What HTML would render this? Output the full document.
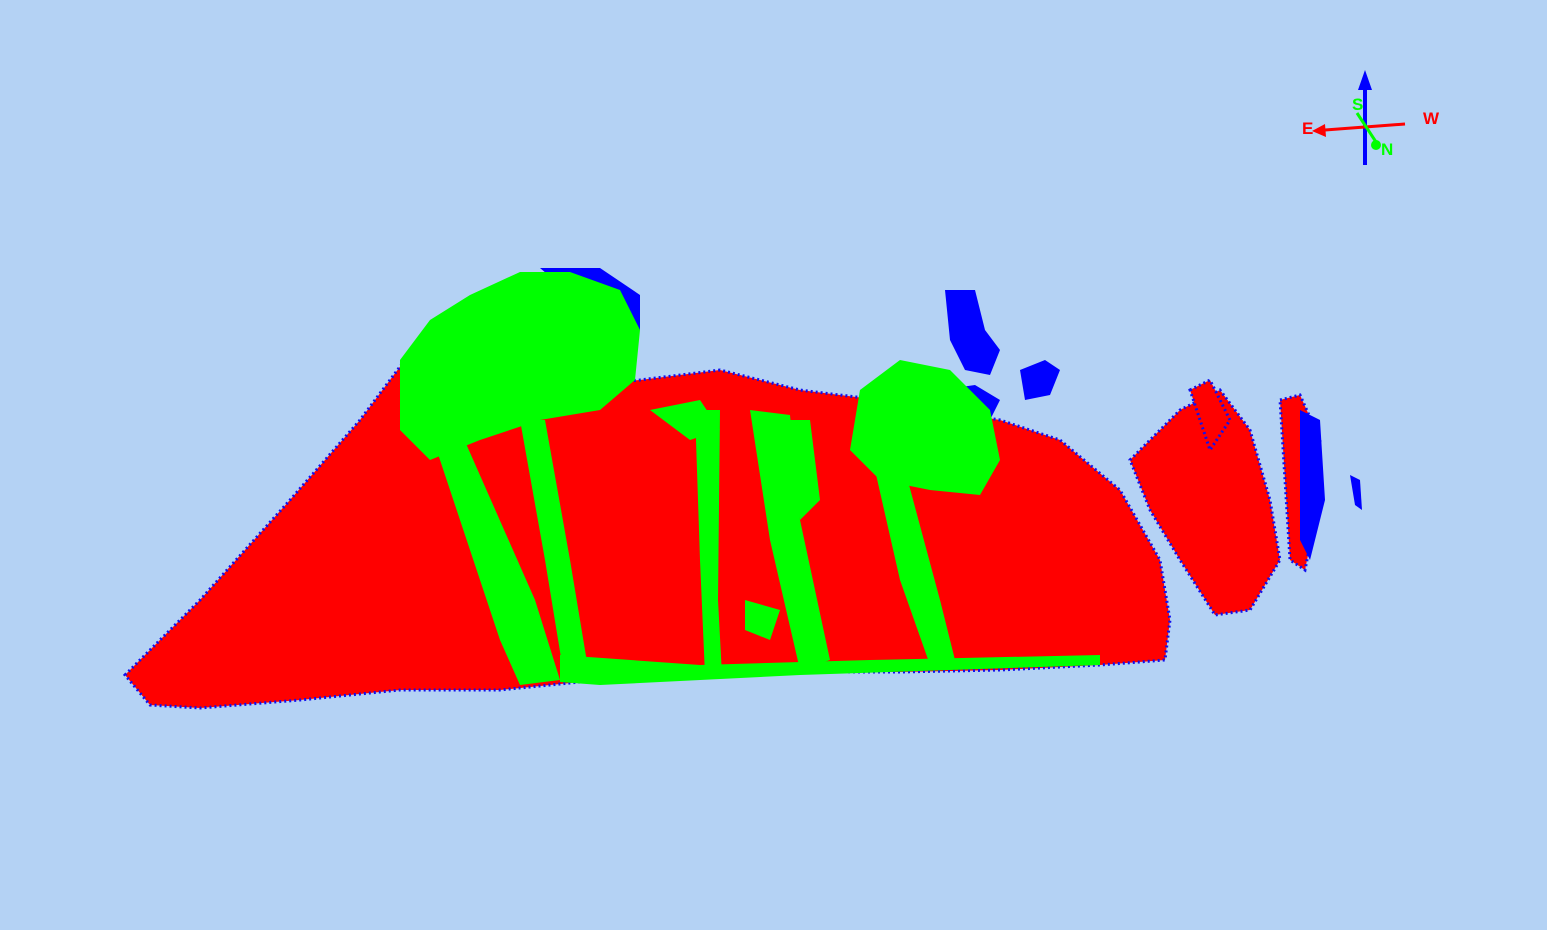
<!DOCTYPE html>
<html><head><meta charset="utf-8"><style>
html,body{margin:0;padding:0;background:#b4d2f4;}
svg{display:block}
text{font-family:"Liberation Sans",sans-serif;font-weight:bold}
</style></head><body>
<svg width="1547" height="930" viewBox="0 0 1547 930">
<rect width="1547" height="930" fill="#b4d2f4"/>
<g id="cloud"></g>
<g>
 <line x1="1365" y1="165" x2="1365" y2="85" stroke="#0000ff" stroke-width="4"/>
 <polygon points="1358,90 1365,70 1372,90" fill="#0000ff"/>
 <line x1="1325" y1="130" x2="1405" y2="124" stroke="#ff0000" stroke-width="3"/>
 <polygon points="1312,131 1325,124 1326,137" fill="#ff0000"/>
 <line x1="1357" y1="113" x2="1378" y2="145" stroke="#00ff00" stroke-width="3"/>
 <circle cx="1376" cy="145" r="5" fill="#00ff00"/>
 <text x="1352" y="110" fill="#00ff00" font-size="17">S</text>
 <text x="1302" y="134" fill="#ff0000" font-size="17">E</text>
 <text x="1423" y="124" fill="#ff0000" font-size="17">W</text>
 <text x="1381" y="155" fill="#00ff00" font-size="17">N</text>
</g>
</svg>
<script>
const redRegions=[
 [[125,675],[200,600],[290,500],[360,420],[420,340],[440,400],[520,390],[640,380],[720,370],[800,390],[880,400],[1000,420],[1060,440],[1120,490],[1160,560],[1170,620],[1165,660],[1100,665],[1000,670],[900,672],[800,672],[700,675],[600,680],[500,690],[400,690],[300,700],[200,708],[150,705]],
 [[1130,460],[1180,410],[1220,390],[1250,430],[1270,500],[1280,560],[1250,610],[1215,615],[1180,560],[1150,510]],
 [[1190,390],[1210,380],[1230,420],[1210,450]],
 [[1280,400],[1300,395],[1320,440],[1315,520],[1305,570],[1290,560],[1285,480]]
];
const greenRegions=[
 [[400,360],[430,320],[470,295],[520,272],[570,272],[620,290],[640,330],[635,380],[600,410],[540,420],[480,440],[430,460],[400,430]],
 [[860,390],[900,360],[950,370],[990,410],[1000,460],[980,495],[930,490],[880,480],[850,450]],
 [[430,430],[460,430],[535,600],[560,680],[520,685],[500,640]],
 [[520,420],[545,420],[570,560],[590,680],[565,682],[545,560]],
 [[695,410],[720,410],[718,600],[722,675],[705,675],[700,560]],
 [[750,410],[790,415],[800,520],[830,660],[800,670],[770,540]],
 [[780,420],[810,420],[820,500],[800,520]],
 [[875,470],[905,470],[940,600],[955,660],[930,665],[900,580]],
 [[745,600],[780,610],[770,640],[745,630]],
 [[560,655],[700,665],[870,660],[1100,655],[1100,665],[800,675],[600,685],[560,682]],
 [[650,410],[700,400],[720,430],[690,440]]
];
const blueRegions=[
 [[945,290],[975,290],[985,330],[1000,350],[990,375],[965,370],[950,340]],
 [[1020,370],[1045,360],[1060,370],[1050,395],[1025,400]],
 [[940,390],[975,385],[1000,400],[990,420],[950,420]],
 [[540,268],[600,268],[640,295],[640,330],[610,300],[560,285]],
 [[1350,475],[1360,480],[1362,510],[1355,505]],
 [[1300,410],[1320,420],[1325,500],[1310,560],[1300,540]]
];
const g=document.getElementById('cloud');
const NS='http://www.w3.org/2000/svg';
function poly(pts,fill,name){
 const p=document.createElementNS(NS,'polygon');
 p.setAttribute('points',pts.map(q=>q.join(',')).join(' '));
 p.setAttribute('fill',fill);
 
 
 g.appendChild(p);
 return p;
}
redRegions.forEach(r=>{const p=poly(r,'#ff0000','red-points');p.setAttribute('stroke','#1010ee');p.setAttribute('stroke-width','3');p.setAttribute('stroke-dasharray','2 3');});
blueRegions.forEach(r=>poly(r,'#0000ff','blue-points'));
greenRegions.forEach(r=>poly(r,'#00ff00','green-points'));
</script>
</body></html>
